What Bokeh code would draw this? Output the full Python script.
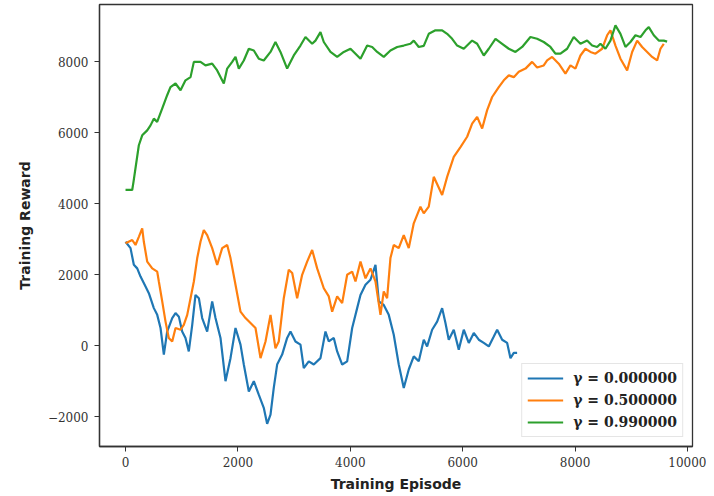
from bokeh.plotting import figure
from bokeh.models import Range1d, FixedTicker
from bokeh.embed import file_html
from bokeh.resources import INLINE

# ---- data ----
green_x = [0, 119, 142, 237, 297, 386, 445, 504, 563, 652, 741, 800, 890, 979, 1067, 1157, 1216, 1334,
           1423, 1542, 1631, 1749, 1809, 1898, 1957, 2016, 2105, 2194, 2283, 2371, 2460, 2580, 2668,
           2757, 2876, 2994, 3113, 3202, 3321, 3380, 3469, 3528, 3647, 3766, 3884, 4003, 4092, 4181,
           4300, 4389, 4478, 4595, 4714, 4834, 4951, 5070, 5129, 5218, 5307, 5396, 5515, 5634, 5723,
           5812, 5901, 6019, 6168, 6257, 6375, 6464, 6583, 6702, 6820, 6939, 7058, 7205, 7324, 7442,
           7561, 7650, 7739, 7858, 7976, 8095, 8214, 8303, 8392, 8451, 8540, 8629, 8718, 8807, 8896,
           8985, 9074, 9163, 9252, 9311, 9400, 9489, 9578, 9637]
green_y = [4390, 4390, 4620, 5650, 5930, 6070, 6210, 6400, 6310, 6680, 7060, 7290, 7390, 7200, 7480,
           7570, 8000, 8000, 7900, 7950, 7760, 7390, 7810, 8000, 8140, 7810, 8040, 8370, 8320, 8090,
           8040, 8280, 8560, 8280, 7810, 8180, 8460, 8700, 8510, 8600, 8840, 8560, 8280, 8140, 8280,
           8370, 8230, 8090, 8460, 8420, 8280, 8140, 8320, 8420, 8460, 8510, 8600, 8420, 8450, 8790,
           8890, 8890, 8790, 8650, 8460, 8370, 8600, 8510, 8180, 8370, 8650, 8510, 8370, 8280, 8420,
           8700, 8650, 8560, 8420, 8230, 8230, 8370, 8700, 8510, 8600, 8460, 8420, 8510, 8370, 8600,
           9030, 8790, 8420, 8560, 8750, 8700, 8890, 8980, 8750, 8600, 8600, 8570]

orange_x = [0, 119, 178, 237, 297, 326, 386, 475, 564, 593, 653, 712, 770, 831, 890, 979, 1037, 1098,
            1157, 1216, 1276, 1334, 1393, 1453, 1542, 1631, 1720, 1809, 1868, 1957, 2046, 2135, 2224,
            2313, 2402, 2491, 2580, 2668, 2727, 2816, 2905, 2966, 3054, 3143, 3232, 3321, 3410, 3528,
            3617, 3677, 3766, 3855, 3944, 4033, 4092, 4181, 4270, 4359, 4448, 4537, 4595, 4655, 4714,
            4773, 4862, 4951, 5040, 5129, 5248, 5307, 5396, 5485, 5634, 5723, 5841, 5960, 6079, 6168,
            6257, 6346, 6435, 6524, 6642, 6731, 6820, 6909, 6998, 7117, 7235, 7324, 7442, 7502, 7591,
            7709, 7828, 7917, 8006, 8095, 8184, 8273, 8362, 8481, 8570, 8629, 8718, 8807, 8926, 9015,
            9104, 9193, 9282, 9371, 9460, 9519, 9578]
orange_y = [2890, 2980, 2840, 3070, 3310, 2930, 2370, 2180, 2090, 1810, 1250, 680, 220, 120, 500, 450,
            590, 870, 1340, 1810, 2470, 2930, 3260, 3120, 2750, 2280, 2750, 2840, 2470, 1720, 960, 780,
            640, 500, -350, 120, 870, -70, 120, 1340, 2140, 2050, 1340, 2000, 2370, 2700, 2180, 1620,
            1390, 960, 1390, 1200, 2000, 2090, 1810, 2370, 1900, 2180, 1810, 870, 1530, 1340, 2470,
            2840, 2750, 3120, 2750, 3450, 3920, 3730, 3920, 4760, 4250, 4760, 5320, 5600, 5890, 6260,
            6450, 6120, 6640, 7010, 7290, 7480, 7620, 7570, 7720, 7810, 8000, 7840, 7900, 8040, 8140,
            7950, 7670, 7900, 7810, 8180, 8370, 8280, 8230, 8370, 8750, 8890, 8460, 8090, 7760, 8280,
            8600, 8420, 8280, 8140, 8040, 8370, 8510]

blue_x = [0, 89, 148, 208, 267, 356, 415, 504, 564, 623, 682, 741, 831, 890, 949, 1008, 1067, 1126,
          1187, 1245, 1305, 1364, 1453, 1542, 1601, 1690, 1779, 1868, 1957, 2046, 2105, 2194, 2283,
          2371, 2460, 2520, 2580, 2638, 2698, 2787, 2876, 2935, 3024, 3113, 3172, 3261, 3350, 3469,
          3558, 3617, 3706, 3766, 3855, 3944, 4033, 4122, 4181, 4270, 4359, 4448, 4507, 4595, 4684,
          4773, 4862, 4951, 5040, 5129, 5218, 5307, 5367, 5456, 5545, 5634, 5693, 5752, 5841, 5930,
          6019, 6108, 6197, 6286, 6375, 6464, 6553, 6613, 6702, 6791, 6850, 6909, 6968]
blue_y = [2930, 2750, 2280, 2180, 1950, 1670, 1480, 1060, 870, 500, -250, 400, 780, 920, 820, 400, 220,
          -160, 590, 1430, 1340, 780, 400, 1250, 780, 220, -1000, -350, 500, 30, -530, -1290, -1000,
          -1380, -1750, -2200, -1940, -1190, -530, -250, 220, 400, 120, 30, -630, -440, -530, -350,
          400, 120, 220, -160, -530, -440, 500, 1060, 1430, 1720, 1860, 2280, 1250, 1150, 870, 310,
          -530, -1190, -670, -300, -440, 170, -20, 450, 680, 1060, 640, 170, 450, -110, 450, 80, 360,
          170, 80, -20, 260, 450, 170, 80, -350, -200, -200]

labels = ["γ = 0.000000", "γ = 0.500000", "γ = 0.990000"]
x_ticks = [0, 2000, 4000, 6000, 8000, 10000]
y_ticks = [-2000, 0, 2000, 4000, 6000, 8000]

# ---- figure ----
p = figure(width=706, height=494, output_backend="svg", toolbar_location=None,
           x_range=Range1d(-463, 10089), y_range=Range1d(-2840, 9617),
           min_border_left=99, min_border_right=14, min_border_top=4, min_border_bottom=47)

p.background_fill_color = "white"
p.border_fill_color = "white"
p.grid.visible = False
p.outline_line_color = "#333333"
p.outline_line_width = 1.3

p.line(blue_x, blue_y, line_color="#1f77b4", line_width=2.2, legend_label=labels[0])
p.line(orange_x, orange_y, line_color="#ff7f0e", line_width=2.2, legend_label=labels[1])
p.line(green_x, green_y, line_color="#2ca02c", line_width=2.2, legend_label=labels[2])

p.xaxis.ticker = FixedTicker(ticks=x_ticks)
p.yaxis.ticker = FixedTicker(ticks=y_ticks)
p.yaxis.major_label_overrides = {t: (str(t).replace("-", "\u2212")) for t in y_ticks}
for ax in (p.xaxis, p.yaxis):
    ax.axis_line_color = "#333333"
    ax.axis_line_width = 1.3
    ax.major_tick_line_color = "#333333"
    ax.major_tick_in = 0
    ax.major_tick_out = 5
    ax.minor_tick_line_color = None
    ax.major_label_text_font = "DejaVu Serif"
    ax.major_label_text_font_size = "12px"
    ax.major_label_text_color = "#333333"
    ax.axis_label_text_font = "DejaVu Sans"
    ax.axis_label_text_font_style = "bold"
    ax.axis_label_text_font_size = "14px"
    ax.axis_label_text_color = "#222222"

p.xaxis.axis_label = "Training Episode"
p.yaxis.axis_label = "Training Reward"
p.xaxis.major_label_standoff = 5
p.yaxis.major_label_standoff = 6
p.xaxis.axis_label_standoff = 6
p.yaxis.axis_label_standoff = 12

lg = p.legend[0]
lg.location = "bottom_right"
lg.margin = 9
lg.padding = 5
lg.spacing = 4
lg.glyph_width = 36
lg.glyph_height = 18
lg.label_height = 18
lg.label_standoff = 10
lg.label_text_font = "DejaVu Serif"
lg.label_text_font_style = "bold"
lg.label_text_font_size = "14px"
lg.label_text_color = "#222222"
lg.border_line_color = "#cccccc"
lg.border_line_width = 1
lg.background_fill_alpha = 0.85

open("out.html", "w").write(file_html(p, INLINE))
